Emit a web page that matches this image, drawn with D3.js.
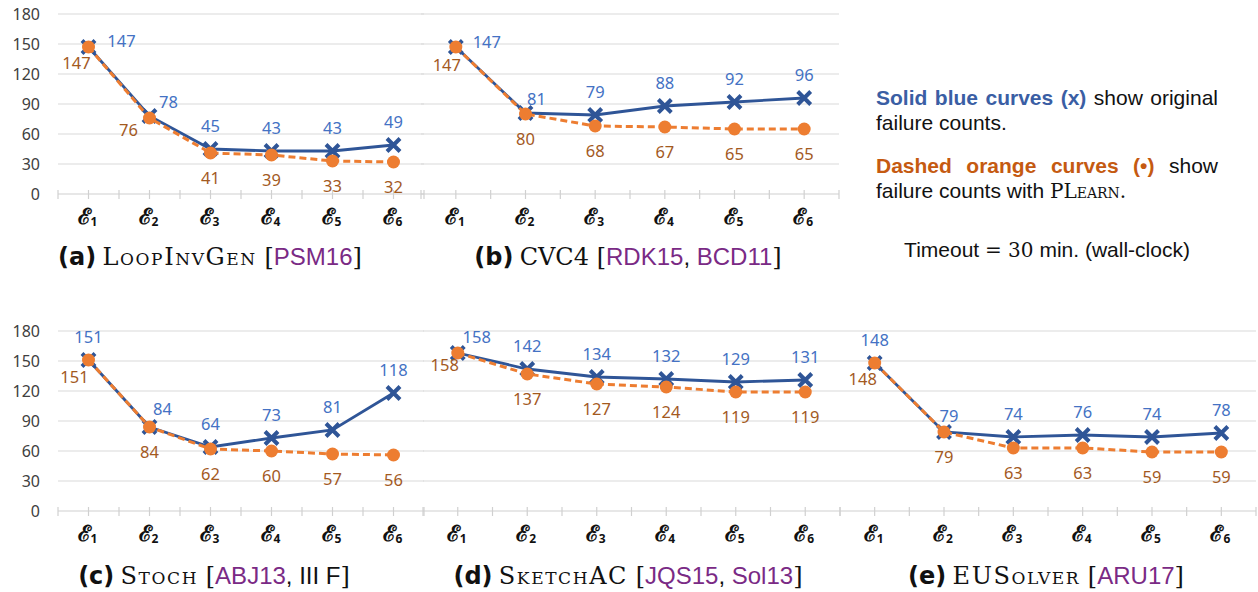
<!DOCTYPE html>
<html lang="en">
<head>
<meta charset="UTF-8">
<title>Failure counts</title>
<style>
  body { margin: 0; background: #fff; }
  svg text { font-family: 'Noto Sans', 'Open Sans', sans-serif; }
  .num { font-size: 16.5px; }
  .ytick { font-size: 16px; fill: #404040; }
  .cap { font-size: 24px; fill: #111; }
  .sc { font-family: 'DejaVu Serif', serif; font-variant: small-caps; font-size: 24px; letter-spacing: 1.6px; }
  .serif { font-family: 'DejaVu Serif', serif; font-size: 24px; }
  .bold { font-weight: bold; font-family: 'DejaVu Sans', sans-serif; }
  .cite { fill: #7a2a85; font-family: 'Liberation Sans', sans-serif; }
  .plain { font-family: 'Liberation Sans', sans-serif; }
  .note { font-size: 21px; fill: #111; font-family: 'Liberation Sans', sans-serif; }
  .nbold { font-weight: bold; }
  .nsc { font-family: 'DejaVu Serif', serif; font-variant: small-caps; font-size: 20px; }
</style>
</head>
<body>
<svg id="chart" width="1258" height="592"></svg>
<script src="https://cdnjs.cloudflare.com/ajax/libs/d3/7.8.5/d3.min.js"></script>
<script>
// categories and ticks
var cats = ['1', '2', '3', '4', '5', '6']
var yTicks = [0, 30, 60, 90, 120, 150, 180]

// failure counts: original (blue) and with PLearn (orange)
var loopBase = [147, 78, 45, 43, 43, 49]
var loopPL = [147, 76, 41, 39, 33, 32]
var cvcBase = [147, 81, 79, 88, 92, 96]
var cvcPL = [147, 80, 68, 67, 65, 65]
var stochBase = [151, 84, 64, 73, 81, 118]
var stochPL = [151, 84, 62, 60, 57, 56]
var sketchBase = [158, 142, 134, 132, 129, 131]
var sketchPL = [158, 137, 127, 124, 119, 119]
var eusBase = [148, 79, 74, 76, 74, 78]
var eusPL = [148, 79, 63, 63, 59, 59]

var blue = '#2f5597', blueLab = '#4472c4'
var orange = '#ed7d31', orangeLab = '#a35a1f'

// label offsets (dx, dy of text centre from the point)
var U = [0, -23], D = [0, 25], R = [33, -6], L = [-12, 16]

var panels = [
  { base: loopBase, pl: loopPL, x0: 58, x1: 424, top: 14, bot: 194, yAxis: true,
    bLab: [R, [19, -14], U, U, U, U], oLab: [L, [-21, 12], D, D, D, D],
    cap: [['(a)', 'bold'], [' '], ['LoopInvGen', 'sc'], [' [', 'serif'], ['PSM16', 'cite'], [']', 'serif']], capX: 210, capY: 265 },
  { base: cvcBase, pl: cvcPL, x0: 421, x1: 839, top: 14, bot: 194,
    bLab: [[31, -5], [11, -14], U, U, U, U], oLab: [[-9, 18], D, D, D, D, D],
    cap: [['(b)', 'bold'], [' '], ['CVC4', 'serif'], [' [', 'serif'], ['RDK15', 'cite'], [', ', 'plain'], ['BCD11', 'cite'], [']', 'serif']], capX: 628, capY: 265 },
  { base: stochBase, pl: stochPL, x0: 58, x1: 424, top: 331, bot: 511, yAxis: true,
    bLab: [U, [13, -18], U, U, U, U], oLab: [[-14, 17], D, D, D, D, D],
    cap: [['(c)', 'bold'], [' '], ['Stoch', 'sc'], [' [', 'serif'], ['ABJ13', 'cite'], [', III F', 'plain'], [']', 'serif']], capX: 214, capY: 584 },
  { base: sketchBase, pl: sketchPL, x0: 423, x1: 840, top: 331, bot: 511,
    bLab: [[19, -16], U, U, U, U, U], oLab: [[-13, 12], D, D, D, D, D],
    cap: [['(d)', 'bold'], [' '], ['SketchAC', 'sc'], [' [', 'serif'], ['JQS15', 'cite'], [', ', 'plain'], ['Sol13', 'cite'], [']', 'serif']], capX: 628, capY: 584 },
  { base: eusBase, pl: eusPL, x0: 840, x1: 1256, top: 331, bot: 511,
    bLab: [U, [5, -16], U, U, U, U], oLab: [L, D, D, D, D, D],
    cap: [['(e)', 'bold'], [' '], ['EUSolver', 'sc'], [' [', 'serif'], ['ARU17', 'cite'], [']', 'serif']], capX: 1046, capY: 584 }
]

var svg = d3.select('#chart')
svg.append('rect').attr('width', 1258).attr('height', 592).attr('fill', '#fff')

panels.forEach(function (p) {
  var g = svg.append('g')
  var x = d3.scaleBand().domain(cats).range([p.x0, p.x1])
  var y = d3.scaleLinear().domain([0, 180]).range([p.bot, p.top])
  var cx = function (i) { return x(cats[i]) + x.bandwidth() / 2 }

  // grid
  g.selectAll('.grid').data(yTicks.slice(1)).enter().append('line')
    .attr('x1', p.x0).attr('x2', p.x1)
    .attr('y1', function (d) { return y(d) }).attr('y2', function (d) { return y(d) })
    .style('stroke', '#d9d9d9').style('stroke-width', 1)
  // x axis line + ticks at every half band
  g.append('line').attr('x1', p.x0).attr('x2', p.x1).attr('y1', y(0)).attr('y2', y(0))
    .style('stroke', '#d0d0d0').style('stroke-width', 1.2)
  var halfTicks = d3.range(0, cats.length * 2 + 1).map(function (k) { return p.x0 + k * x.bandwidth() / 2 })
  g.selectAll('.tk').data(halfTicks).enter().append('line')
    .attr('x1', function (d) { return d }).attr('x2', function (d) { return d })
    .attr('y1', y(0) - 4).attr('y2', y(0) + 5)
    .style('stroke', '#d0d0d0').style('stroke-width', 1.2)

  // y labels
  if (p.yAxis) {
    g.selectAll('.ytick').data(yTicks).enter().append('text').attr('class', 'ytick')
      .attr('x', 40).attr('y', function (d) { return y(d) }).attr('dy', '0.35em')
      .attr('text-anchor', 'end').text(function (d) { return d })
  }

  // x labels
  cats.forEach(function (c, i) {
    var t = g.append('text').attr('x', cx(i) - 1).attr('y', y(0) + 30)
      .attr('text-anchor', 'middle').style('fill', '#111')
    t.append('tspan').text('\u2130').style('font-family', 'DejaVu Serif, serif')
      .style('font-weight', 'bold').style('font-size', '22px')
    t.append('tspan').text(c).attr('dy', 2).style('font-size', '12px').style('font-weight', 'bold')
  })

  var line = d3.line().x(function (d, i) { return cx(i) }).y(function (d) { return y(d) })

  // blue series
  g.append('path').datum(p.base).attr('d', line)
    .style('fill', 'none').style('stroke', blue).style('stroke-width', 2.8)
  p.base.forEach(function (v, i) {
    g.append('path').attr('d', 'M-6.5,-6.5L6.5,6.5M-6.5,6.5L6.5,-6.5')
      .attr('transform', 'translate(' + cx(i) + ',' + y(v) + ')')
      .style('stroke', blue).style('stroke-width', 4).style('fill', 'none')
  })
  // orange series
  g.append('path').datum(p.pl).attr('d', line)
    .style('fill', 'none').style('stroke', orange).style('stroke-width', 3)
    .style('stroke-dasharray', '7,4')
  g.selectAll('.dot').data(p.pl).enter().append('circle')
    .attr('cx', function (d, i) { return cx(i) }).attr('cy', function (d) { return y(d) })
    .attr('r', 6.5).style('fill', orange)

  // data labels
  p.base.forEach(function (v, i) {
    g.append('text').attr('class', 'num').attr('text-anchor', 'middle')
      .attr('x', cx(i) + p.bLab[i][0]).attr('y', y(v) + p.bLab[i][1]).attr('dy', '0.35em')
      .style('fill', blueLab).text(v)
  })
  p.pl.forEach(function (v, i) {
    g.append('text').attr('class', 'num').attr('text-anchor', 'middle')
      .attr('x', cx(i) + p.oLab[i][0]).attr('y', y(v) + p.oLab[i][1]).attr('dy', '0.35em')
      .style('fill', orangeLab).text(v)
  })

  // caption
  var cap = g.append('text').attr('class', 'cap').attr('x', p.capX).attr('y', p.capY)
    .attr('text-anchor', 'middle')
  p.cap.forEach(function (part) {
    cap.append('tspan').attr('class', part[1] || null).text(part[0])
  })
})

// note on the right
var note = svg.append('g')
function noteLine (words, x0, x1, yy, justify) {
  var t = note.append('text').attr('class', 'note').attr('y', yy)
  var spans = words.map(function (w) {
    return t.append('tspan').attr('class', w[1] || null)
      .style('fill', w[2] || null).text(w[0])
  })
  var widths = spans.map(function (s) { return s.node().getComputedTextLength() })
  var gap = justify ? (x1 - x0 - d3.sum(widths)) / (words.length - 1) : 5
  var xx = x0
  spans.forEach(function (s, i) { s.attr('x', xx); xx += widths[i] + gap })
}
var nb = '#3a5ea4', no = '#c55a11'
noteLine([['Solid', 'nbold', nb], ['blue', 'nbold', nb], ['curves', 'nbold', nb], ['(x)', 'nbold', nb],
  ['show'], ['original']], 876, 1218, 105, true)
note.append('text').attr('class', 'note').attr('x', 876).attr('y', 130).text('failure counts.')
noteLine([['Dashed', 'nbold', no], ['orange', 'nbold', no], ['curves', 'nbold', no], ['(\u2022)', 'nbold', no],
  ['show']], 876, 1218, 173, true)
var l4 = note.append('text').attr('class', 'note').attr('x', 876).attr('y', 198)
l4.append('tspan').text('failure counts with ')
l4.append('tspan').attr('class', 'nsc').text('PLearn')
l4.append('tspan').attr('class', 'nsc').text('.')
var tm = note.append('text').attr('class', 'note').attr('x', 1047).attr('y', 257).attr('text-anchor', 'middle')
tm.append('tspan').text('Timeout ')
tm.append('tspan').style('font-family', 'DejaVu Serif, serif').style('font-size', '20px').text('=  30')
tm.append('tspan').text(' min.  (wall-clock)')
</script>
</body>
</html>
